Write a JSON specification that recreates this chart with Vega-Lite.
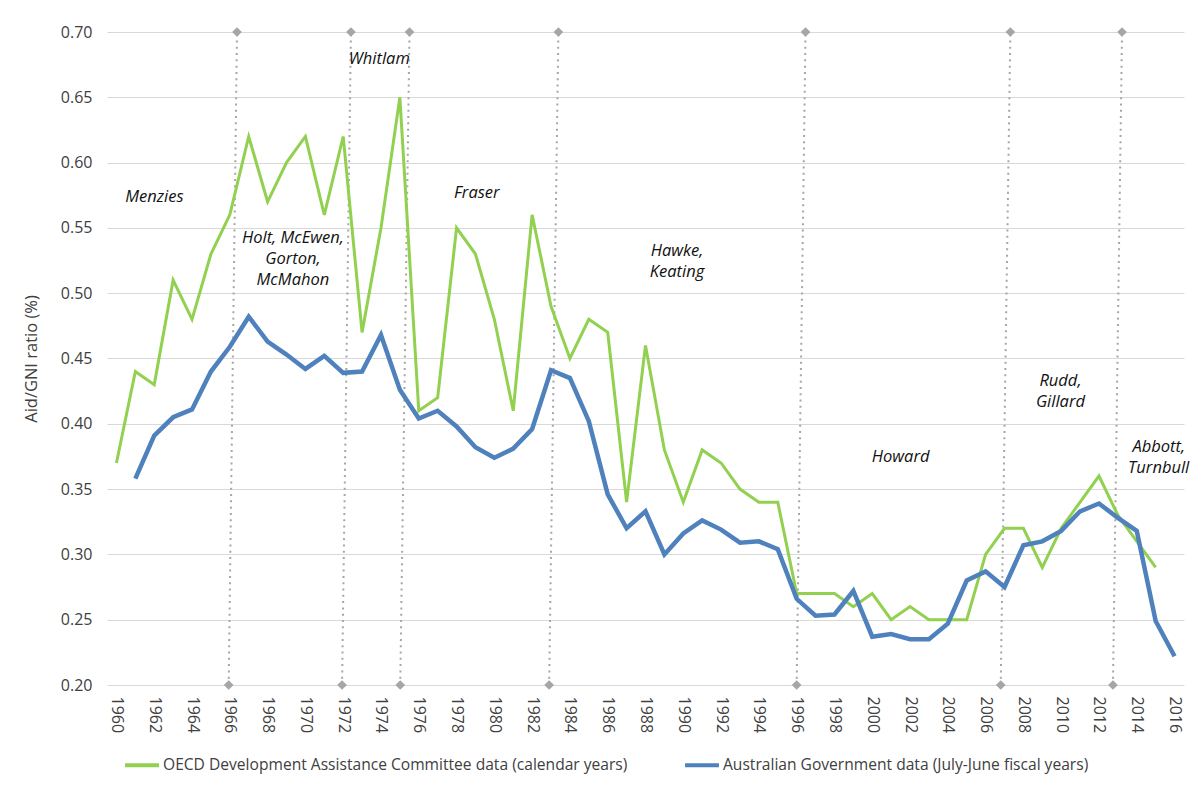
{
  "$schema": "https://vega.github.io/schema/vega-lite/v6.json",
  "autosize": {"type": "none"},
  "padding": {"left": 107, "top": 32, "right": 13, "bottom": 102},
  "width": 1077,
  "height": 653,
  "background": "white",
  "view": {"stroke": null},
  "config": {
    "axisX": {"labelOverlap": false, "labelFlush": false, "labelBound": false, "labelAngle": 90, "labelFont": "Open Sans", "labelFontSize": 16, "labelColor": "#404040", "domain": false, "ticks": false, "grid": false, "labelPadding": 11, "title": null, "format": "d",
      "values": [1960,1962,1964,1966,1968,1970,1972,1974,1976,1978,1980,1982,1984,1986,1988,1990,1992,1994,1996,1998,2000,2002,2004,2006,2008,2010,2012,2014,2016]},
    "axisY": {"labelOverlap": false, "labelFont": "Open Sans", "labelFontSize": 16, "labelColor": "#404040", "labelPadding": 15, "domain": false, "ticks": false, "grid": true, "gridColor": "#d9d9d9", "gridWidth": 1.2}
  },
  "datasets": {
    "aid": [
      {"year": 1960, "oecd": 0.37, "aus": null},
      {"year": 1961, "oecd": 0.44, "aus": 0.358},
      {"year": 1962, "oecd": 0.43, "aus": 0.391},
      {"year": 1963, "oecd": 0.51, "aus": 0.405},
      {"year": 1964, "oecd": 0.48, "aus": 0.411},
      {"year": 1965, "oecd": 0.53, "aus": 0.440},
      {"year": 1966, "oecd": 0.56, "aus": 0.459},
      {"year": 1967, "oecd": 0.62, "aus": 0.482},
      {"year": 1968, "oecd": 0.57, "aus": 0.463},
      {"year": 1969, "oecd": 0.60, "aus": 0.453},
      {"year": 1970, "oecd": 0.62, "aus": 0.442},
      {"year": 1971, "oecd": 0.56, "aus": 0.452},
      {"year": 1972, "oecd": 0.62, "aus": 0.439},
      {"year": 1973, "oecd": 0.47, "aus": 0.440},
      {"year": 1974, "oecd": 0.55, "aus": 0.468},
      {"year": 1975, "oecd": 0.65, "aus": 0.426},
      {"year": 1976, "oecd": 0.41, "aus": 0.404},
      {"year": 1977, "oecd": 0.42, "aus": 0.410},
      {"year": 1978, "oecd": 0.55, "aus": 0.398},
      {"year": 1979, "oecd": 0.53, "aus": 0.382},
      {"year": 1980, "oecd": 0.48, "aus": 0.374},
      {"year": 1981, "oecd": 0.41, "aus": 0.381},
      {"year": 1982, "oecd": 0.56, "aus": 0.396},
      {"year": 1983, "oecd": 0.49, "aus": 0.441},
      {"year": 1984, "oecd": 0.45, "aus": 0.435},
      {"year": 1985, "oecd": 0.48, "aus": 0.402},
      {"year": 1986, "oecd": 0.47, "aus": 0.346},
      {"year": 1987, "oecd": 0.34, "aus": 0.320},
      {"year": 1988, "oecd": 0.46, "aus": 0.333},
      {"year": 1989, "oecd": 0.38, "aus": 0.300},
      {"year": 1990, "oecd": 0.34, "aus": 0.316},
      {"year": 1991, "oecd": 0.38, "aus": 0.326},
      {"year": 1992, "oecd": 0.37, "aus": 0.319},
      {"year": 1993, "oecd": 0.35, "aus": 0.309},
      {"year": 1994, "oecd": 0.34, "aus": 0.310},
      {"year": 1995, "oecd": 0.34, "aus": 0.304},
      {"year": 1996, "oecd": 0.27, "aus": 0.266},
      {"year": 1997, "oecd": 0.27, "aus": 0.253},
      {"year": 1998, "oecd": 0.27, "aus": 0.254},
      {"year": 1999, "oecd": 0.26, "aus": 0.272},
      {"year": 2000, "oecd": 0.27, "aus": 0.237},
      {"year": 2001, "oecd": 0.25, "aus": 0.239},
      {"year": 2002, "oecd": 0.26, "aus": 0.235},
      {"year": 2003, "oecd": 0.25, "aus": 0.235},
      {"year": 2004, "oecd": 0.25, "aus": 0.247},
      {"year": 2005, "oecd": 0.25, "aus": 0.280},
      {"year": 2006, "oecd": 0.30, "aus": 0.287},
      {"year": 2007, "oecd": 0.32, "aus": 0.275},
      {"year": 2008, "oecd": 0.32, "aus": 0.307},
      {"year": 2009, "oecd": 0.29, "aus": 0.310},
      {"year": 2010, "oecd": 0.32, "aus": 0.318},
      {"year": 2011, "oecd": 0.34, "aus": 0.333},
      {"year": 2012, "oecd": 0.36, "aus": 0.339},
      {"year": 2013, "oecd": 0.33, "aus": 0.328},
      {"year": 2014, "oecd": 0.31, "aus": 0.318},
      {"year": 2015, "oecd": 0.29, "aus": 0.249},
      {"year": 2016, "oecd": null, "aus": 0.222}
    ],
    "terms": [
      {"start": 1965.94, "end": 1966.38},
      {"start": 1971.94, "end": 1972.41},
      {"start": 1975.02, "end": 1975.51},
      {"start": 1982.90, "end": 1983.39},
      {"start": 1996.00, "end": 1996.47},
      {"start": 2006.80, "end": 2007.31},
      {"start": 2012.74, "end": 2013.22}
    ],
    "labels": [
      {"label": "Menzies", "year": 1962.01, "value": 0.5737},
      {"label": "Holt, McEwen,\nGorton,\nMcMahon", "year": 1969.34, "value": 0.5423},
      {"label": "Whitlam", "year": 1973.91, "value": 0.6793},
      {"label": "Fraser", "year": 1979.07, "value": 0.5767},
      {"label": "Hawke,\nKeating", "year": 1989.67, "value": 0.5323},
      {"label": "Howard", "year": 2001.5, "value": 0.3746},
      {"label": "Rudd,\nGillard", "year": 2009.96, "value": 0.433},
      {"label": "Abbott,\nTurnbull", "year": 2015.16, "value": 0.3825}
    ]
  },
  "layer": [
    {
      "data": {"name": "terms"},
      "mark": {"type": "rule", "color": "#a6a6a6", "strokeWidth": 2, "strokeDash": [2, 4.3]},
      "encoding": {
        "x": {"field": "start", "type": "quantitative", "scale": {"domain": [1959.5, 2016.5], "nice": false, "zero": false},
          "axis": {"labelOverlap": false}},
        "x2": {"field": "end"},
        "y": {"datum": 0.2, "type": "quantitative", "scale": {"domain": [0.2, 0.7], "nice": false, "zero": false},
          "axis": {"title": "Aid/GNI ratio (%)", "values": [0.2,0.25,0.3,0.35,0.4,0.45,0.5,0.55,0.6,0.65,0.7], "format": ".2f",
            "titleFont": "Open Sans", "titleFontSize": 16.5, "titleFontWeight": "normal", "titleColor": "#404040",
            "titleX": -76, "titleY": 326.5, "titleAngle": -90, "titleAlign": "center", "titleBaseline": "middle"}},
        "y2": {"datum": 0.7}
      }
    },
    {
      "mark": {"type": "rule", "color": "#ff0000", "strokeWidth": 3, "strokeDash": [3.5, 2.7]},
      "encoding": {
        "x": {"datum": 1959.3, "type": "quantitative", "axis": {"labelOverlap": false}},
        "x2": {"datum": 2016.9},
        "y": {"datum": 0.5, "type": "quantitative"}
      }
    },
    {
      "data": {"name": "aid"},
      "mark": {"type": "line", "strokeWidth": 3},
      "encoding": {
        "x": {"field": "year", "type": "quantitative", "axis": {"labelOverlap": false}},
        "y": {"field": "oecd", "type": "quantitative"},
        "color": {"datum": "OECD Development Assistance Committee data (calendar years)",
          "scale": {"domain": ["OECD Development Assistance Committee data (calendar years)", "Australian Government data (July-June fiscal years)"], "range": ["#92d050", "#4f81bd"]},
          "legend": {"orient": "none", "legendX": 16, "legendY": 714, "direction": "horizontal", "title": null,
            "symbolType": "stroke", "symbolStrokeWidth": 4, "symbolSize": 1150, "labelFont": "Open Sans", "labelFontSize": 15.6,
            "labelColor": "#404040", "columnPadding": 49, "labelOffset": 2, "labelLimit": 700}}
      }
    },
    {
      "data": {"name": "aid"},
      "mark": {"type": "line", "strokeWidth": 4.5},
      "encoding": {
        "x": {"field": "year", "type": "quantitative", "axis": {"labelOverlap": false}},
        "y": {"field": "aus", "type": "quantitative"},
        "color": {"datum": "Australian Government data (July-June fiscal years)"}
      }
    },
    {
      "data": {"name": "terms"},
      "mark": {"type": "point", "shape": "diamond", "filled": true, "size": 95, "color": "#a6a6a6", "opacity": 1},
      "encoding": {
        "x": {"field": "start", "type": "quantitative", "axis": {"labelOverlap": false}},
        "y": {"datum": 0.2, "type": "quantitative"}
      }
    },
    {
      "data": {"name": "terms"},
      "mark": {"type": "point", "shape": "diamond", "filled": true, "size": 95, "color": "#a6a6a6", "opacity": 1},
      "encoding": {
        "x": {"field": "end", "type": "quantitative", "axis": {"labelOverlap": false}},
        "y": {"datum": 0.7, "type": "quantitative"}
      }
    },
    {
      "data": {"name": "labels"},
      "mark": {"type": "text", "font": "Open Sans", "fontStyle": "italic", "fontSize": 16.5, "color": "#111111", "align": "center", "baseline": "middle", "lineBreak": "\n", "lineHeight": 21},
      "encoding": {
        "x": {"field": "year", "type": "quantitative", "axis": {"labelOverlap": false}},
        "y": {"field": "value", "type": "quantitative"},
        "text": {"field": "label"}
      }
    }
  ]
}
